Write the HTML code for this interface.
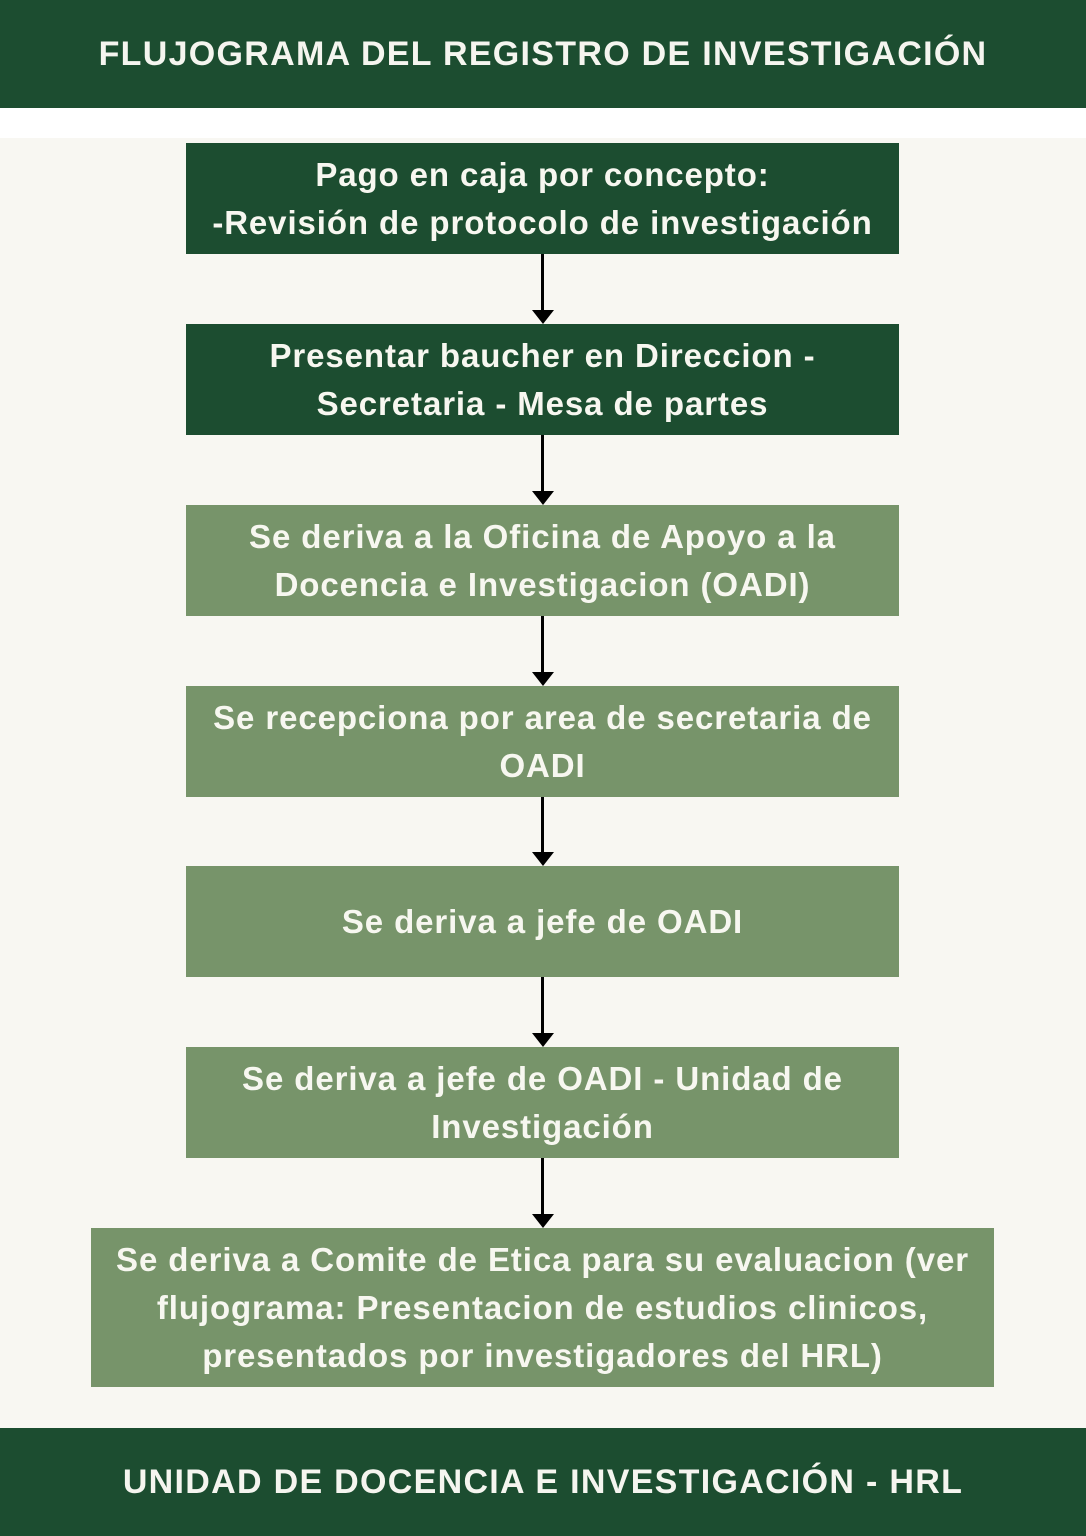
<!DOCTYPE html>
<html><head><meta charset="utf-8"><style>
body{margin:0;width:1086px;height:1536px;background:#f8f7f2;position:relative;overflow:hidden;font-family:"Liberation Sans",sans-serif;font-weight:bold}
.bar{position:absolute;left:0;width:1086px;height:108px;background:#1c4d30;color:#f5f5ef;display:flex;align-items:center;justify-content:center;font-size:34px;letter-spacing:1.3px;white-space:nowrap}
.box{position:absolute;left:186px;width:713px;height:111px;color:#f7f7f0;display:flex;align-items:center;justify-content:center;text-align:center;font-size:33px;line-height:48px;letter-spacing:0.9px;white-space:nowrap}
.d{background:#1c4d30}.l{background:#77946a}
.ln{position:absolute;left:541px;width:3px;background:#000}
.ah{position:absolute;left:532px;width:0;height:0;border-left:11px solid transparent;border-right:11px solid transparent;border-top:14px solid #000}
</style></head><body>
<div class="bar" style="top:0">FLUJOGRAMA DEL REGISTRO DE INVESTIGACIÓN</div>
<div style="position:absolute;top:108px;left:0;width:1086px;height:30px;background:#fff"></div>
<div class="box d" style="top:143px">Pago en caja por concepto:<br>-Revisión de protocolo de investigación</div>
<div class="box d" style="top:324px">Presentar baucher en Direccion -<br>Secretaria - Mesa de partes</div>
<div class="box l" style="top:505px">Se deriva a la Oficina de Apoyo a la<br>Docencia e Investigacion (OADI)</div>
<div class="box l" style="top:686px">Se recepciona por area de secretaria de<br>OADI</div>
<div class="box l" style="top:866px">Se deriva a jefe de OADI</div>
<div class="box l" style="top:1047px">Se deriva a jefe de OADI - Unidad de<br>Investigación</div>
<div class="box l" style="top:1228px;left:91px;width:903px;height:159px">Se deriva a Comite de Etica para su evaluacion (ver<br>flujograma: Presentacion de estudios clinicos,<br>presentados por investigadores del HRL)</div>
<div class="ln" style="top:254px;height:58px"></div><div class="ah" style="top:310px"></div>
<div class="ln" style="top:435px;height:58px"></div><div class="ah" style="top:491px"></div>
<div class="ln" style="top:616px;height:58px"></div><div class="ah" style="top:672px"></div>
<div class="ln" style="top:797px;height:57px"></div><div class="ah" style="top:852px"></div>
<div class="ln" style="top:977px;height:58px"></div><div class="ah" style="top:1033px"></div>
<div class="ln" style="top:1158px;height:58px"></div><div class="ah" style="top:1214px"></div>
<div class="bar" style="top:1428px">UNIDAD DE DOCENCIA E INVESTIGACIÓN - HRL</div>
</body></html>
